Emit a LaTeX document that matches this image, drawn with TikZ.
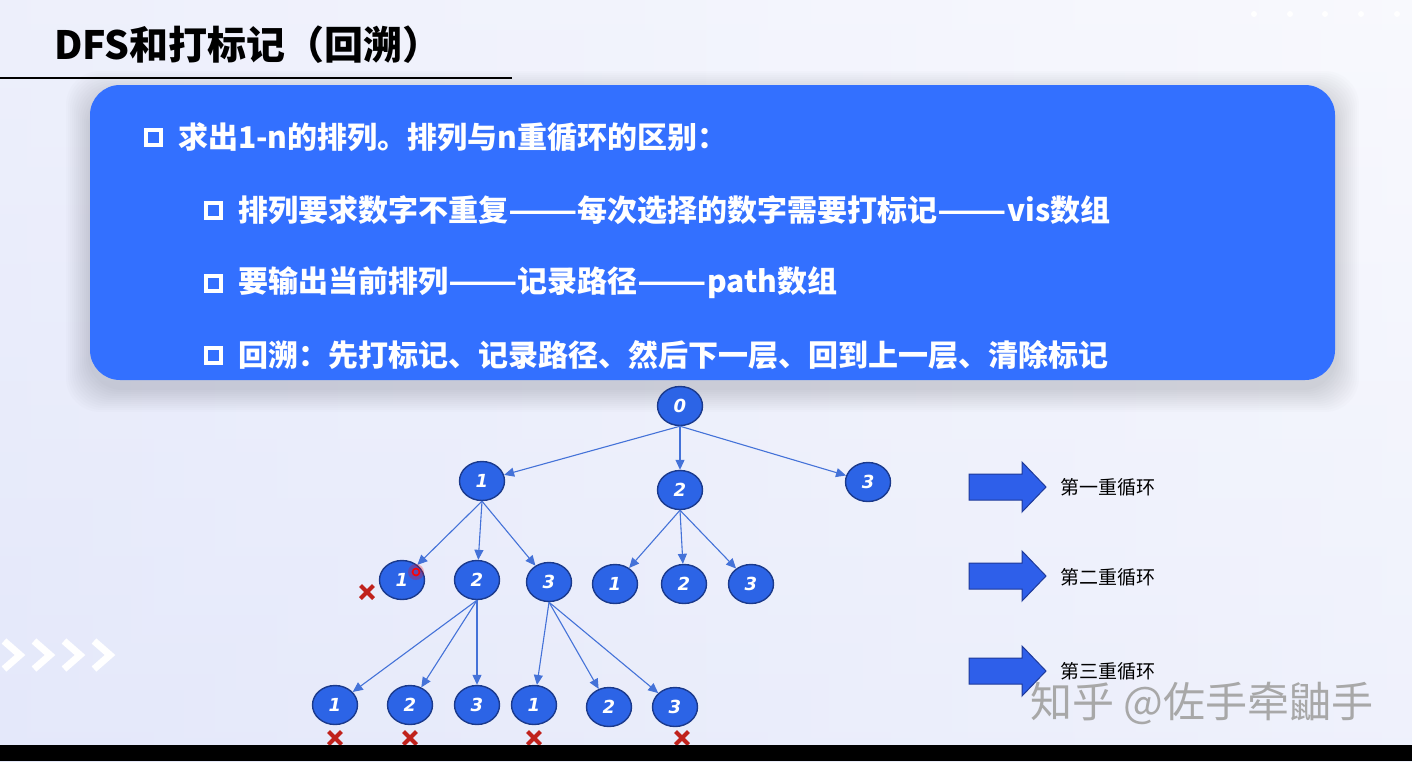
\documentclass[tikz,border=0pt]{standalone}
\usepackage{fontspec}
\setmainfont{Noto Sans CJK SC}
\newfontfamily\cjk{Noto Sans CJK SC}
\newfontfamily\digitfont{DejaVu Sans}
\usetikzlibrary{shapes.geometric,arrows.meta}
\definecolor{boxblue}{HTML}{3370FF}
\definecolor{nodeblue}{HTML}{2C64E6}
\definecolor{nodeborder}{HTML}{1B3A8C}
\definecolor{edgeblue}{HTML}{4472D8}
\definecolor{arrblue}{HTML}{2E5FEA}
\definecolor{arrborder}{HTML}{1E3A9A}
\definecolor{xred}{HTML}{C0221C}
\definecolor{bgtop}{HTML}{F4F5FD}
\definecolor{bgbot}{HTML}{E4E8FA}
\definecolor{wmgray}{HTML}{A8A8A8}
\newcommand\dsh{\scalebox{1.35}[1]{——}}
\tikzset{
  tn/.style={ellipse,minimum width=45pt,minimum height=39pt,inner sep=0pt,fill=nodeblue,draw=nodeborder,line width=1.4pt,text=white,font=\digitfont\bfseries\itshape\fontsize{18}{18}\selectfont},
  edge/.style={draw=edgeblue,line width=1.1pt,-{Triangle[length=10pt,width=9pt]}},
  chk/.style={draw=white,line width=3.6pt,minimum size=15pt,inner sep=0pt},
  line/.style={anchor=west,text=white,inner sep=0pt,font=\cjk\bfseries\fontsize{30}{34}\selectfont},
  loop/.style={anchor=west,inner sep=0pt,text=black,font=\cjk\fontsize{19}{22}\selectfont},
  blockarrow/.style={fill=arrblue,draw=arrborder,line width=1pt},
  redx/.style={draw=xred,line width=4.2pt},
  chev/.style={draw=white,line width=7pt}
}
\begin{document}
\begin{tikzpicture}[x=1pt,y=-1pt]
\useasboundingbox (0,0) rectangle (1412,761);
% background
\shade[top color=bgtop,bottom color=bgbot] (0,0) rectangle (1412,761);
\shade[left color=bgbot,right color=white,opacity=0.4] (0,0) rectangle (1412,761);
% top-right dots
\foreach \x in {1254,1290,1325,1361,1397} \fill[white] (\x,14) circle (3);
% chevrons
\foreach \x in {4,34,64,94} \draw[chev] (\x,641) -- (\x+16,655) -- (\x,669);
% title
\node[anchor=west,inner sep=0pt,font=\cjk\bfseries\fontsize{39}{42}\selectfont] (title) at (54,45) {DFS和打标记（回溯）};
\draw[line width=2pt] (0,78) -- (512,78);
% shadow of the box
\foreach \d in {2,4,...,24}
  \fill[black,opacity=0.012,rounded corners=34] (90-\d,85-\d+10) rectangle (1335+\d,380+\d+8);
% blue box
\fill[boxblue,rounded corners=30] (90,85) rectangle (1335,380);
\node[chk] (c1) at (153.5,137.5) {};
\node[chk] (c2) at (213.5,210.5) {};
\node[chk] (c3) at (213.5,283.5) {};
\node[chk] (c4) at (213.5,355.5) {};
\node[line] (t1) at (178,137) {求出1-n的排列。排列与n重循环的区别：};
\node[line] (t2) at (238,210) {排列要求数字不重复\dsh 每次选择的数字需要打标记\dsh vis数组};
\node[line] (t3) at (238,283) {要输出当前排列\dsh 记录路径\dsh path数组};
\node[line] (t4) at (238,355) {回溯：先打标记、记录路径、然后下一层、回到上一层、清除标记};
% tree
\node[tn] (r) at (680,406) {0};
\node[tn] (a1) at (482,481) {1};
\node[tn] (a2) at (680,490) {2};
\node[tn] (a3) at (868,482) {3};
\node[tn] (b1) at (402,580) {1};
\node[tn] (b2) at (477,580) {2};
\node[tn] (b3) at (549,582) {3};
\node[tn] (b4) at (615,584) {1};
\node[tn] (b5) at (684,584) {2};
\node[tn] (b6) at (751,584) {3};
\node[tn] (d1) at (335,705) {1};
\node[tn] (d2) at (410,705) {2};
\node[tn] (d3) at (477,705) {3};
\node[tn] (d4) at (534,705) {1};
\node[tn] (d5) at (609,707) {2};
\node[tn] (d6) at (675,707) {3};
\foreach \p/\c in {r/a1,r/a2,r/a3,a1/b1,a1/b2,a1/b3,a2/b4,a2/b5,a2/b6,b2/d1,b2/d2,b2/d3,b3/d4,b3/d5,b3/d6}
  \draw[edge] (\p.south) -- (\c);
% pointer
\fill[red,opacity=0.25] (416,572) circle (8);
\draw[red,line width=1.6pt] (416,572) circle (3.5);
% red crosses
\foreach \x/\y in {367/592,335/738,410/738,534/738,682/738}
  \draw[redx] (\x-6.5,\y-6.5) -- (\x+6.5,\y+6.5) (\x-6.5,\y+6.5) -- (\x+6.5,\y-6.5);
% block arrows and labels
\foreach \y/\n in {487/1,576/2,671/3}
  \draw[blockarrow] (969,\y-13) -- (1022,\y-13) -- (1022,\y-25) -- (1046,\y) -- (1022,\y+25) -- (1022,\y+13) -- (969,\y+13) -- cycle;
\node[loop] (l1) at (1060,487) {第一重循环};
\node[loop] (l2) at (1060,577) {第二重循环};
\node[loop] (l3) at (1060,671) {第三重循环};
% watermark
\node[anchor=west,inner sep=0pt,text=wmgray,font=\cjk\fontsize{42}{46}\selectfont] (wm) at (1030,703) {知乎 @佐手牵鼬手};
% bottom bar
\fill[black] (0,745) rectangle (1412,761);
\end{tikzpicture}
\end{document}
